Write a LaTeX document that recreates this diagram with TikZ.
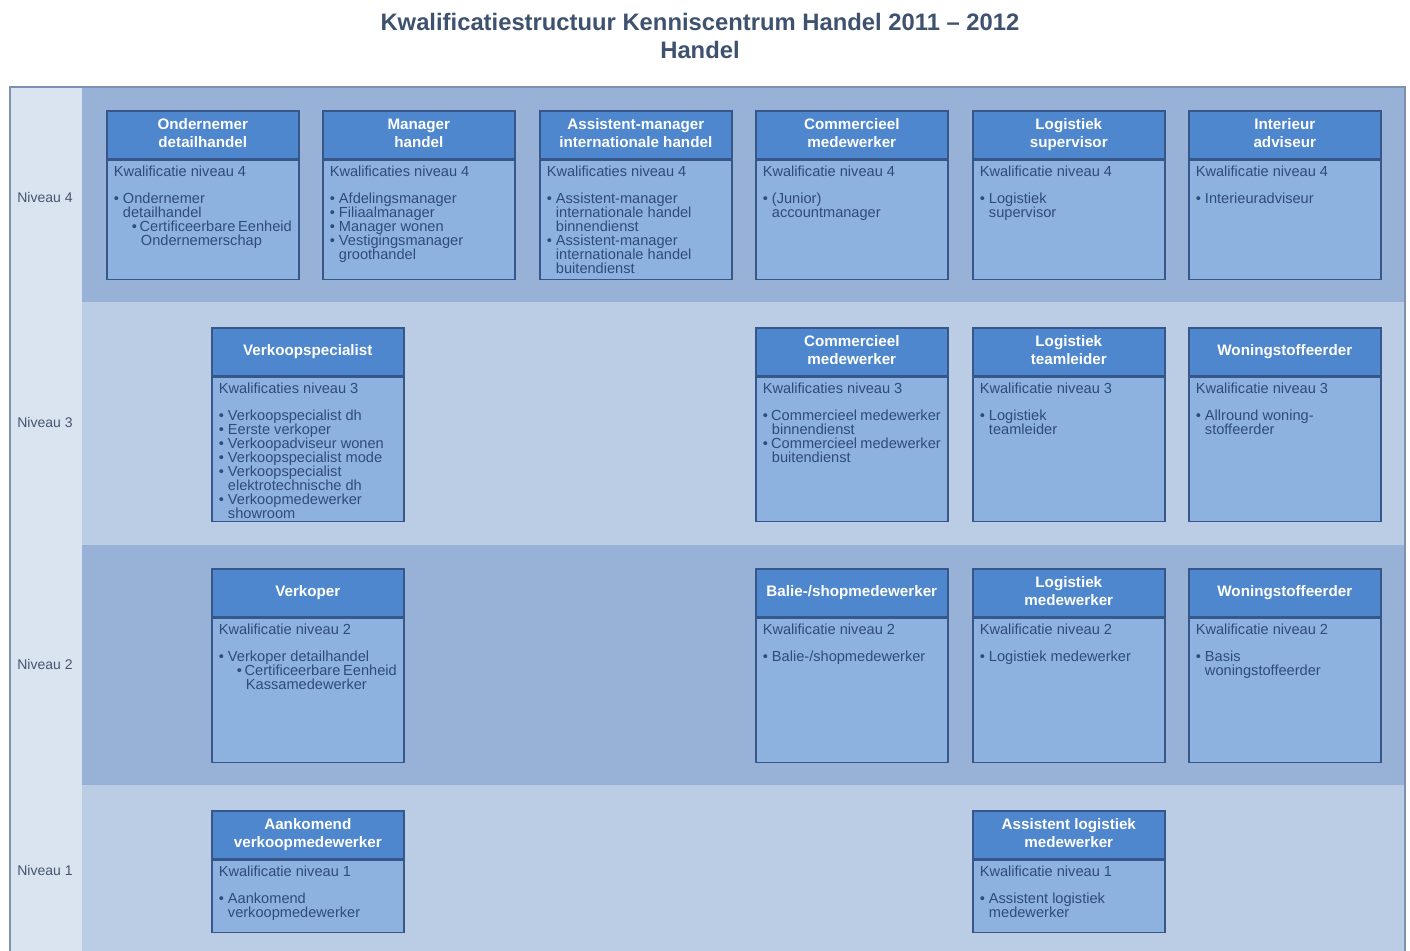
\documentclass[tikz,border=0pt]{standalone}
\usepackage{fontspec}
\setmainfont{Liberation Sans}
\setlength{\lineskiplimit}{-10pt}
\definecolor{kopblauw}{HTML}{4E87CD}
\definecolor{rompblauw}{HTML}{8EB2E0}
\definecolor{randblauw}{HTML}{37578A}
\definecolor{donkerband}{HTML}{97B2D6}
\definecolor{lichtband}{HTML}{BACDE5}
\definecolor{kolom}{HTML}{DAE4F0}
\definecolor{kaderrand}{HTML}{7D91AF}
\definecolor{tekstblauw}{HTML}{2F4A7D}
\definecolor{titelkleur}{HTML}{3E5270}
\definecolor{labelgrijs}{HTML}{46556E}
\newcommand{\bol}{\textbullet\ }
\newcommand{\inspr}{\phantom{\textbullet\ }}
\begin{document}
\begin{tikzpicture}[x=0.5pt,y=-0.5pt,
  kop/.style={draw=randblauw, fill=kopblauw, text=white, line width=0.8pt,
    font=\fontsize{7.6}{9}\selectfont\bfseries, align=center, anchor=north west,
    minimum width=96pt, minimum height=24pt, inner sep=0pt,
    execute at end node={\vphantom{g}}},
  romp/.style={draw=randblauw, fill=rompblauw, text=tekstblauw, line width=0.8pt,
    font=\fontsize{7.3}{7}\selectfont, anchor=north west, inner xsep=3.5pt, inner ysep=3pt,
    execute at begin node={\begin{minipage}[t][#1][t]{89pt}},
    execute at end node={\end{minipage}}},
  niveau/.style={text=labelgrijs, font=\fontsize{7}{8}\selectfont}]
\clip (0,0) rectangle (1410,950);
\fill[white] (0,0) rectangle (1410,950);
\node[text=titelkleur, font=\fontsize{11.9}{14}\selectfont\bfseries, align=center] (titel) at (700,36)
  {Kwalificatiestructuur Kenniscentrum Handel 2011 -- 2012\\Handel};
\fill[donkerband] (82,87) rectangle (1405,302);
\fill[lichtband] (82,302) rectangle (1405,545);
\fill[donkerband] (82,545) rectangle (1405,785);
\fill[lichtband] (82,785) rectangle (1405,960);
\fill[kolom] (10,87) rectangle (82,960);
\draw[kaderrand, line width=1pt] (10,87) rectangle (1405,960);
\node[niveau] (n4) at (45,197) {Niveau 4};
\node[niveau] (n3) at (45,422) {Niveau 3};
\node[niveau] (n2) at (45,664) {Niveau 2};
\node[niveau] (n1) at (45,870) {Niveau 1};
\node[kop] (ond) at (106,110) {Ondernemer\\detailhandel};
\node[romp=53.5pt] (ond-b) at (ond.south west) {Kwalificatie niveau 4\\[6.5pt]
  \bol Ondernemer\\\inspr detailhandel\\
  \hspace*{9pt}\bol Certificeerbare Eenheid\\\hspace*{9pt}\inspr Ondernemerschap};
\node[kop] (man) at (322,110) {Manager\\handel};
\node[romp=53.5pt] (man-b) at (man.south west) {Kwalificaties niveau 4\\[6.5pt]
  \bol Afdelingsmanager\\\bol Filiaalmanager\\\bol Manager wonen\\
  \bol Vestigingsmanager\\\inspr groothandel};
\node[kop] (ass) at (539,110) {Assistent-manager\\internationale handel};
\node[romp=53.5pt] (ass-b) at (ass.south west) {Kwalificaties niveau 4\\[6.5pt]
  \bol Assistent-manager\\\inspr internationale handel\\\inspr binnendienst\\
  \bol Assistent-manager\\\inspr internationale handel\\\inspr buitendienst};
\node[kop] (com4) at (755,110) {Commercieel\\medewerker};
\node[romp=53.5pt] (com4-b) at (com4.south west) {Kwalificatie niveau 4\\[6.5pt]
  \bol (Junior)\\\inspr accountmanager};
\node[kop] (logs) at (972,110) {Logistiek\\supervisor};
\node[romp=53.5pt] (logs-b) at (logs.south west) {Kwalificatie niveau 4\\[6.5pt]
  \bol Logistiek\\\inspr supervisor};
\node[kop] (int) at (1188,110) {Interieur\\adviseur};
\node[romp=53.5pt] (int-b) at (int.south west) {Kwalificatie niveau 4\\[6.5pt]
  \bol Interieuradviseur};
\node[kop] (vks) at (211,327) {Verkoopspecialist};
\node[romp=66pt] (vks-b) at (vks.south west) {Kwalificaties niveau 3\\[6.5pt]
  \bol Verkoopspecialist dh\\\bol Eerste verkoper\\\bol Verkoopadviseur wonen\\
  \bol Verkoopspecialist mode\\\bol Verkoopspecialist\\\inspr elektrotechnische dh\\
  \bol Verkoopmedewerker\\\inspr showroom};
\node[kop] (com3) at (755,327) {Commercieel\\medewerker};
\node[romp=66pt] (com3-b) at (com3.south west) {Kwalificaties niveau 3\\[6.5pt]
  \bol Commercieel medewerker\\\inspr binnendienst\\
  \bol Commercieel medewerker\\\inspr buitendienst};
\node[kop] (logt) at (972,327) {Logistiek\\teamleider};
\node[romp=66pt] (logt-b) at (logt.south west) {Kwalificatie niveau 3\\[6.5pt]
  \bol Logistiek\\\inspr teamleider};
\node[kop] (won3) at (1188,327) {Woningstoffeerder};
\node[romp=66pt] (won3-b) at (won3.south west) {Kwalificatie niveau 3\\[6.5pt]
  \bol Allround woning-\\\inspr stoffeerder};
\node[kop] (vkp) at (211,568) {Verkoper};
\node[romp=66pt] (vkp-b) at (vkp.south west) {Kwalificatie niveau 2\\[6.5pt]
  \bol Verkoper detailhandel\\
  \hspace*{9pt}\bol Certificeerbare Eenheid\\\hspace*{9pt}\inspr Kassamedewerker};
\node[kop] (bal) at (755,568) {Balie-/shopmedewerker};
\node[romp=66pt] (bal-b) at (bal.south west) {Kwalificatie niveau 2\\[6.5pt]
  \bol Balie-/shopmedewerker};
\node[kop] (logm) at (972,568) {Logistiek\\medewerker};
\node[romp=66pt] (logm-b) at (logm.south west) {Kwalificatie niveau 2\\[6.5pt]
  \bol Logistiek medewerker};
\node[kop] (won2) at (1188,568) {Woningstoffeerder};
\node[romp=66pt] (won2-b) at (won2.south west) {Kwalificatie niveau 2\\[6.5pt]
  \bol Basis\\\inspr woningstoffeerder};
\node[kop] (aan) at (211,810) {Aankomend\\verkoopmedewerker};
\node[romp=30pt] (aan-b) at (aan.south west) {Kwalificatie niveau 1\\[6.5pt]
  \bol Aankomend\\\inspr verkoopmedewerker};
\node[kop] (alm) at (972,810) {Assistent logistiek\\medewerker};
\node[romp=30pt] (alm-b) at (alm.south west) {Kwalificatie niveau 1\\[6.5pt]
  \bol Assistent logistiek\\\inspr medewerker};
\end{tikzpicture}
\end{document}
